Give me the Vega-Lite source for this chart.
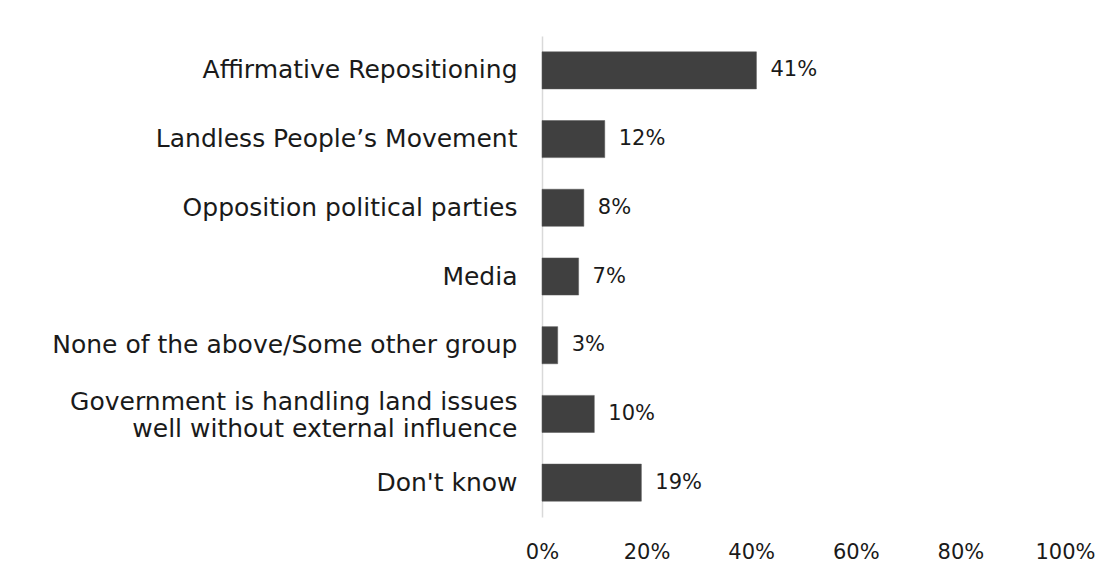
{
  "$schema": "https://vega.github.io/schema/vega-lite/v6.json",
  "autosize": {"type": "none"},
  "padding": {"left": 542, "top": 36, "right": 52, "bottom": 60},
  "width": 523,
  "height": 481,
  "background": "white",
  "config": {
    "view": {"stroke": null},
    "font": "DejaVu Sans"
  },
  "data": {
    "values": [
      {"group": "Affirmative Repositioning", "share": 0.41},
      {"group": "Landless People’s Movement", "share": 0.12},
      {"group": "Opposition political parties", "share": 0.08},
      {"group": "Media", "share": 0.07},
      {"group": "None of the above/Some other group", "share": 0.03},
      {"group": "Government is handling land issues well without external influence", "share": 0.10},
      {"group": "Don't know", "share": 0.19}
    ]
  },
  "encoding": {
    "y": {
      "field": "group",
      "type": "nominal",
      "sort": null,
      "scale": {"paddingInner": 0.46, "paddingOuter": 0.23},
      "axis": {
        "title": null,
        "ticks": false,
        "domainColor": "#d9d9d9",
        "domainWidth": 1.5,
        "labelPadding": 25,
        "labelFont": "DejaVu Sans",
        "labelFontSize": 25,
        "labelColor": "#1a1a1a",
        "labelLimit": 700,
        "labelLineHeight": 27,
        "labelOffset": {
          "condition": {"test": "datum.value == 'Government is handling land issues well without external influence'", "value": -12},
          "value": 0
        },
        "labelExpr": "datum.label == 'Government is handling land issues well without external influence' ? ['Government is handling land issues', 'well without external influence'] : datum.label"
      }
    }
  },
  "layer": [
    {
      "mark": {"type": "bar", "color": "#404040", "stroke": "#595959", "strokeWidth": 0.5},
      "encoding": {
        "x": {
          "field": "share",
          "type": "quantitative",
          "scale": {"domain": [0, 1], "nice": false},
          "axis": {
            "title": null,
            "format": ".0%",
            "values": [0, 0.2, 0.4, 0.6, 0.8, 1],
            "grid": false,
            "ticks": false,
            "domain": false,
            "labelPadding": 24,
            "labelFont": "DejaVu Sans",
            "labelFontSize": 21,
            "labelColor": "#1a1a1a",
            "labelFlush": false
          }
        }
      }
    },
    {
      "mark": {"type": "text", "align": "left", "dx": 14, "fontSize": 21, "font": "DejaVu Sans", "color": "#1a1a1a"},
      "encoding": {
        "x": {"field": "share", "type": "quantitative"},
        "text": {"field": "share", "type": "quantitative", "format": ".0%"}
      }
    }
  ]
}
